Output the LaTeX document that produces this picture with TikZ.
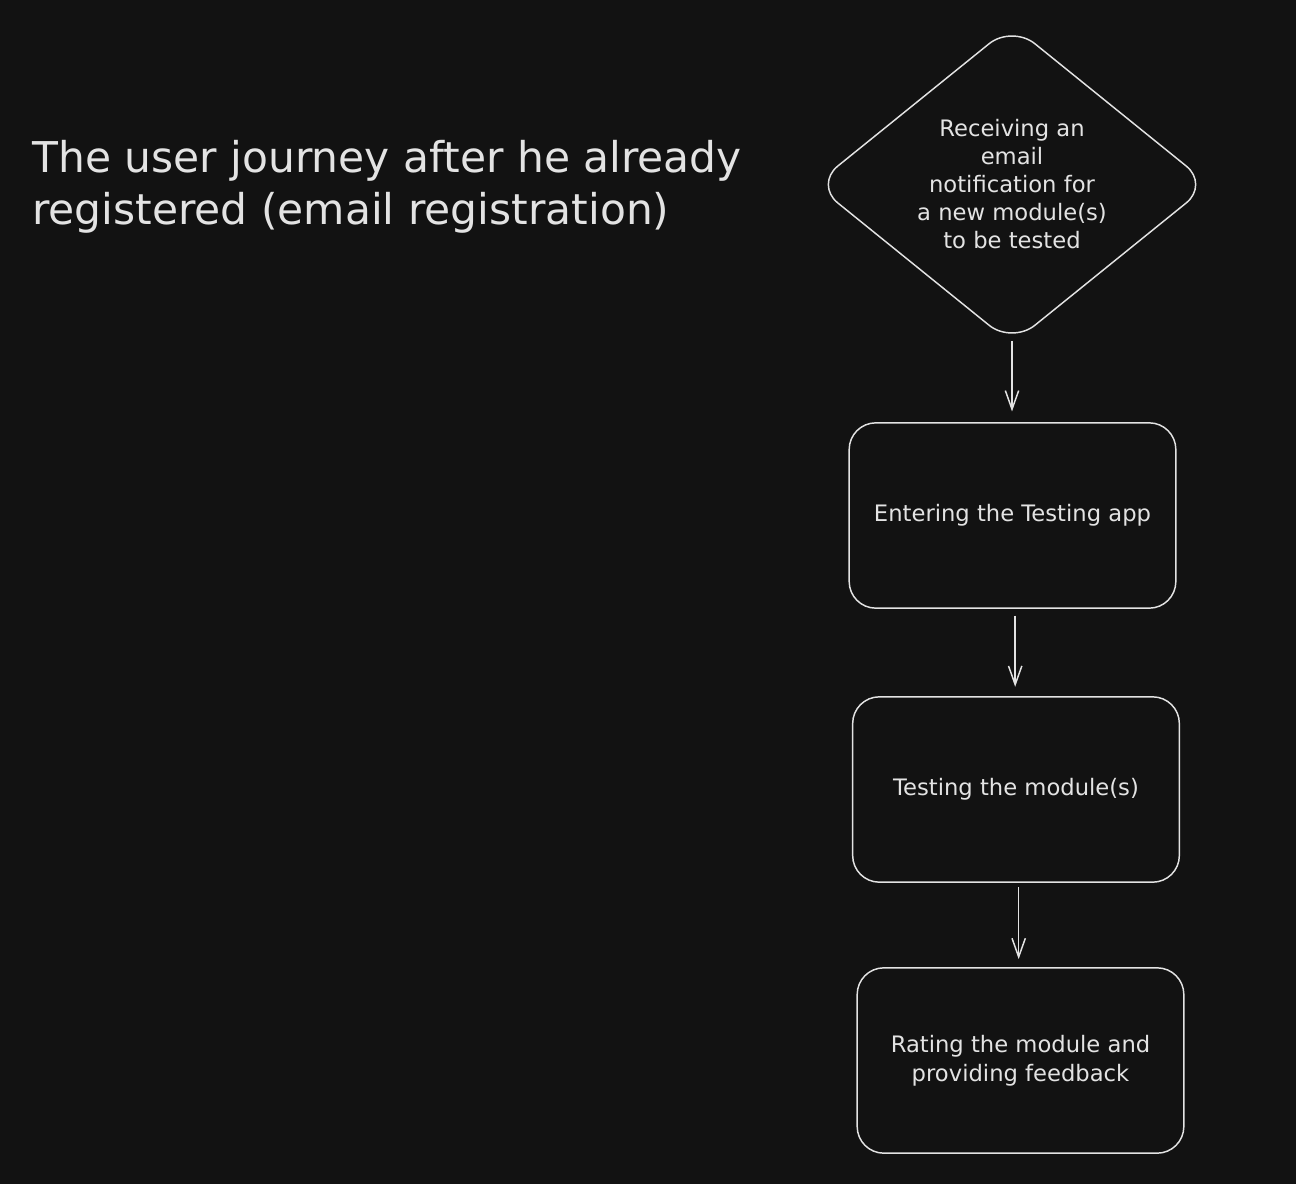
\documentclass[tikz,border=0pt]{standalone}
\usepackage{fontspec}
\setmainfont{DejaVu Sans}
\usetikzlibrary{shapes.geometric,arrows.meta}
\definecolor{bgc}{HTML}{121212}
\definecolor{inkc}{HTML}{E3E3E3}
\tikzset{
  stepbox/.style={draw=inkc, line width=1.1pt, rectangle, rounded corners=20pt,
    minimum width=245pt, minimum height=139pt, inner sep=0pt, text=inkc,
    font=\fontsize{17}{21.5}\selectfont, align=center},
  decision/.style={draw=inkc, line width=1.1pt, diamond, rounded corners=22pt,
    minimum width=296pt, minimum height=224pt, inner sep=0pt, text=inkc,
    font=\fontsize{17}{21}\selectfont, align=center},
  flow/.style={draw=inkc, line width=1.1pt, -{Straight Barb[length=14pt,width=10pt,line width=1.1pt]}},
  titletext/.style={text=inkc, font=\fontsize{31.8}{39}\selectfont, align=left, inner sep=0pt}
}
\begin{document}
\begin{tikzpicture}[x=0.75pt,y=-0.75pt]
\useasboundingbox[fill=bgc] (0,0) rectangle (1296,1184);
\node[titletext, anchor=north west] (title) at (32,140)
  {The user journey after he already\\registered (email registration)};
\node[decision] (d) at (1012,184.5)
  {Receiving an\\email\\notification for\\a new module(s)\\to be tested};
\node[stepbox] (b1) at (1012.5,515.5) {Entering the Testing app};
\node[stepbox] (b2) at (1016,789.5) {Testing the module(s)};
\node[stepbox] (b3) at (1020.5,1060.5) {Rating the module and\\providing feedback};
\draw[flow, shorten <=-3pt, shorten >=8pt] (d.south) -- (d.south |- b1.north);
\draw[flow, shorten <=5pt, shorten >=7pt] ([xshift=2pt]b1.south) -- ([xshift=2pt]b1.south |- b2.north);
\draw[flow, shorten <=3pt, shorten >=6pt] ([xshift=2pt]b2.south) -- ([xshift=2pt]b2.south |- b3.north);
\end{tikzpicture}
\end{document}
